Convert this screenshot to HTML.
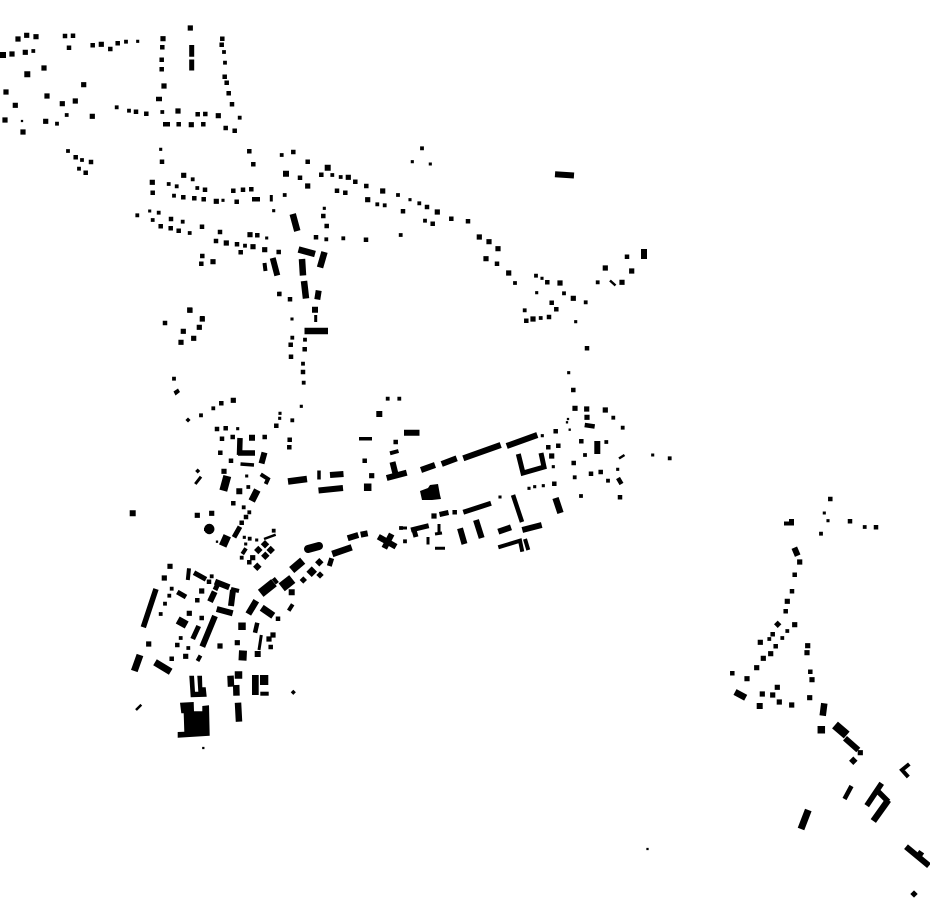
<!DOCTYPE html>
<html><head><meta charset="utf-8"><title>Figure-ground plan</title>
<style>html,body{margin:0;padding:0;background:#fff;width:930px;height:924px;overflow:hidden}svg{display:block}
.s{fill:none;stroke:#000;stroke-linecap:square}.l{fill:none;stroke:#000;stroke-linecap:butt;stroke-linejoin:miter}</style></head>
<body><svg xmlns="http://www.w3.org/2000/svg" width="930" height="924" viewBox="0 0 930 924">
<!-- small square buildings: zero-length square-capped subpaths -->
<path class="s" stroke-width="2.3" d="M22 121h0M217 541.7h0M569.7 429.7h0M568 419h0M567 422.3h0M647.5 849h0M203.3 748h0"/>
<path class="s" stroke-width="3.1" d="M137.7 41.3h0M160.7 149.3h0M266.7 238h0M223 200.3h0M273.7 210.7h0M149.7 211h0M301.3 406.3h0M412.3 161.7h0M430.3 164h0M536.7 292.7h0M542 278.3h0M575.7 321.7h0M568.7 372.7h0M542.3 435.7h0M553.3 466.7h0M617.7 469.3h0M652.7 455h0M543.3 485.7h0M534.7 486.7h0M529 488.3h0M500 497h0M280 413.3h0M279.7 418.3h0M237.7 428.7h0M246.7 476h0M244.3 537.3h0M245.7 544h0M256.7 540h0M824.3 513h0M828 520.7h0M324.3 208.3h0M410 199.7h0M280 293.3h0M292 319h0"/>
<path class="s" stroke-width="3.8" d="M66.7 115h0M126 41.7h0M57 123.7h0M33.3 51h0M225 62.7h0M224 52h0M239.7 117.7h0M116.7 107.3h0M129 110.7h0M162.3 112h0M281.7 155h0M68 151h0M82 160h0M79 168.7h0M192.7 179.3h0M168.7 184h0M176.7 186.3h0M197.3 188h0M174 195.7h0M284.7 195h0M137.3 215.3h0M158.7 212.7h0M182.7 221.7h0M152.7 220h0M189.7 233h0M245 245.7h0M292.3 337.7h0M305 339.7h0M303 363.7h0M303.7 382.7h0M292.3 420.3h0M387.7 398.7h0M399.3 398.7h0M422 148.3h0M332.3 175h0M340.7 177h0M377.3 204.3h0M384.7 205.3h0M398 195h0M419.3 203.3h0M425 220.7h0M400.7 235h0M343.3 238.3h0M326.3 239.3h0M515 283h0M536 275.7h0M564 293.3h0M585.7 302.3h0M524.7 310.3h0M540.7 318h0M597.7 282.3h0M613.3 417.7h0M622.7 427.7h0M606.3 442h0M585 455h0M574.7 477.3h0M608 480.7h0M581 496h0M669.7 458.3h0M401 528h0M405 541.3h0M201 415.3h0M213.3 408.3h0M249.3 512.3h0M248.3 487h0M243.7 507.3h0M249.7 538.7h0M169.3 595.7h0M171.7 588.7h0M165 603.7h0M160.7 614h0M180.7 638h0M188.3 648h0M211.7 576.3h0M787.3 631h0M782.3 638h0M769.3 639h0M821 533.7h0M864.7 527h0M241.7 557.7h0M273.7 530.7h0M174 378.7h0"/>
<path class="s" stroke-width="4.5" d="M65 36h0M73 35.7h0M69 47.7h0M92.7 45.3h0M110.3 49h0M117.7 43.3h0M161.7 59.7h0M161.7 69.3h0M162.3 47.3h0M221.7 44.7h0M222.3 38.7h0M224.7 76.7h0M226.7 82.7h0M228.7 93.3h0M232 104.3h0M205.3 114h0M197.7 114.3h0M225.7 128h0M234.7 130.7h0M136 111.7h0M146.3 113.7h0M178.7 124.3h0M203.3 124.3h0M162 161.7h0M249.3 151.3h0M253.3 164.3h0M293.3 152h0M75.7 157.3h0M91 162h0M85.7 172.7h0M152.7 192.7h0M205 189.7h0M183.3 197.3h0M194.3 198.3h0M203.7 199.3h0M233.3 190.7h0M243 189.7h0M251.3 189.3h0M236.7 201.7h0M171 219h0M160.7 226.3h0M170.7 228.3h0M178.7 230.7h0M202 226.7h0M220 232h0M216 241h0M237 244.3h0M240.7 252.3h0M257.3 235.3h0M278.7 252h0M202.3 256h0M201.3 263.7h0M279.3 294h0M290 299.3h0M202.3 318.3h0M290.7 344.7h0M291 356.7h0M304.7 349.3h0M303 372h0M307.7 161.7h0M300 177.7h0M321.3 174.7h0M337 190.7h0M345.3 192.7h0M355.3 181.7h0M366.3 186h0M427 207h0M451.3 218.7h0M468 221.3h0M403 211.3h0M432.7 223.7h0M366 239.7h0M316 237.3h0M323.3 216h0M326.7 226h0M497 263.7h0M547.3 282.3h0M556.3 309.3h0M551.7 302.7h0M526.3 320.7h0M549 317h0M627 256.7h0M587 348.3h0M573.3 390h0M555.7 431.3h0M558.3 445.7h0M548.3 447.3h0M581.3 441.3h0M573.7 463h0M591 473.7h0M600.7 472h0M620 497.3h0M554.3 483.7h0M454.7 512.3h0M395.7 442h0M364.7 460.7h0M217 429h0M225.7 428.3h0M222 438.7h0M232.7 437h0M264.7 437h0M289.7 439.7h0M289.3 447.3h0M220.3 452.7h0M231 460.7h0M233.3 503.3h0M246 517h0M241.7 522.7h0M276.3 425.7h0M221.3 403.3h0M197.3 600.3h0M201.7 618h0M177.3 645h0M171.7 658.7h0M278 618.7h0M270.7 647h0M792 591.3h0M785.7 611.3h0M772.7 634.3h0M775.7 646.3h0M732.3 673.3h0M830.3 499h0M850 521.3h0M876 527.3h0M794.7 574.7h0M810.3 671.7h0M249.3 562.3h0M209 581.7h0M165 323h0"/>
<path class="s" stroke-width="5.2" d="M18 39h0M26.7 35.3h0M36 36.7h0M101.3 44.3h0M12 54h0M25.3 52.3h0M47 96h0M15.3 105.3h0M5 120h0M45.7 121.3h0M92.3 116.3h0M6 92h0M62.3 103.7h0M75.3 101h0M23 132h0M163 38.7h0M164 86h0M190.3 28h0M218.3 115.7h0M191.3 124.7h0M178 111h0M152.3 182.3h0M183.7 175.3h0M216.3 201.3h0M226.3 243h0M253 246.7h0M250 234.7h0M264.7 249.7h0M213 261.7h0M189.7 310h0M307.7 186h0M382.7 191h0M367.7 199.7h0M437.3 212h0M348.3 177.3h0M479.3 237h0M489 241.7h0M498 248.7h0M486 258.7h0M508.7 273h0M560 283h0M573.3 298.3h0M533 319h0M605.3 268h0M622 282.3h0M631.7 271h0M575 408.3h0M586.7 409h0M587 417.3h0M605.3 410h0M233.3 400.3h0M269 639h0M170 566.3h0M164.3 578h0M201.7 591h0M189.3 613.3h0M148.7 644h0M220 646h0M273 635h0M794.7 624.7h0M787.3 601.3h0M760.3 642.3h0M770.7 653.7h0M763.3 658.3h0M756.7 667.7h0M747 678.7h0M762.3 694h0M772.7 695h0M777.3 687.3h0M779.3 702h0M791.7 705h0M807.7 645.7h0M807 652.7h0M812 679.7h0M809.7 697.7h0M799.7 562h0M252.7 557.7h0M860.3 752.7h0M197.3 515.3h0M185.7 656.3h0M237.3 642.7h0M202.3 319h0M199.3 327.3h0M193.7 338.3h0M183.3 331.3h0M181 342.3h0M190 310.3h0M371.7 475.7h0M434 516h0M44 68h0M83.7 84.7h0M2.7 55h0M27.3 74.3h0M551.7 456h0M211.7 513.3h0M224 471.3h0"/>
<path class="s" stroke-width="6" d="M132.7 513.3h0M379.3 414h0M291.7 592.3h0M252 437.7h0M257.7 654h0M644 252h0M644 256h0M239.3 491.3h0M327.7 167.7h0M286 173.7h0M315 309.7h0M759.7 706h0M3 55h0M27.3 74.3h0"/>
<path class="s" stroke-width="7.5" d="M367.7 487.3h0M242 626.3h0M821.3 729.7h0M238.5 675h0"/>
<!-- diamonds -->
<path class="s" stroke-width="3.6" d="M188 420l.01.01M197.7 471l.01.01M293.3 692.3l.01.01M6 92l.01.01"/>
<path class="s" stroke-width="5.2" d="M914 894l.01.01M777.7 624.3l.01.01M319.3 562.3l.01.01M303.3 580l.01.01M320 575l.01.01"/>
<path class="s" stroke-width="6" d="M258.3 550l.01.01M270.7 550l.01.01M265.3 555.7l.01.01M853.3 760.7l.01.01M257.3 566.7l.01.01M265 544.3l.01.01M319.3 562.3l.01.01"/>
<path class="s" stroke-width="7.5" d="M311.7 571.7l.01.01"/>
<!-- elongated buildings -->
<path class="l" stroke-width="2.5" d="M136 710L141.3 704.7M264 539L275.7 534.7M619 458.5L624.5 455M610 280.5L615.5 285.5"/>
<path class="l" stroke-width="3" d="M271.3 195v6.5M264.7 263L265.5 270.5M261.3 635L259 650M315.7 315L315.7 322M428 537v7.5M435 548.3h10M439 524v9M435 534L442 533M401 528h6M195.3 484L201 476.7"/>
<path class="l" stroke-width="3.5" d="M240.5 464L254 465M319 470.5V479.5M359 438.7H372"/>
<path class="l" stroke-width="4" d="M498.3 547.3L520 540.7L522.3 551.7M525 539L528.3 550M246 548.3L242.3 554M260.7 474.3L268 479L265.7 484M231 589L239 591M909.3 764L902 770L908.3 777M390 453.3L398.5 451M292.7 604.3L288.7 610.7M200.5 655.5L197.5 661M187.8 580L189 568.3M264.5 263L265.5 271"/>
<path class="l" stroke-width="4.5" d="M513 495L522 522M851.5 786L844.5 799M257.3 622.7L255 632.7M156 99h6M163 124.3h7M252 199.3h8M584.7 425L594.7 426.5M618 478L621.5 484"/>
<path class="l" stroke-width="5" d="M518.3 454L523 473L544 467L541 453M463.3 512.3L491 503.3M198.7 626L192.7 639M240 526.7L234 537.3M194 572.7L206 579.3M177.3 592L186 597M218.3 583L215 590M411 530L428.7 525.7M414 530L416 537M439.5 514.5L448.5 512.5M331.7 558.3L329.3 566M191.7 45V56.7M191.7 59.5V70.5"/>
<path class="l" stroke-width="5.5" d="M240 438L239.5 455M238 453H255M881.7 783.3L866.7 805.7M878.3 791.7L888.3 801.7M156 589L143.3 627.3"/>
<path class="l" stroke-width="6" d="M421 470L435 465M441.7 464L456.7 458.3M463.3 458.3L500.7 445M506.7 446L537.3 435M386.7 478L406.7 472.7M392.5 462L395.5 474M404 432.7H419.5M460 528.3L464.5 544M476 520L481.7 538M498.3 531.7L511 527.3M522.3 530L541.7 525M264.5 452.5L261.5 463.5M215 581.7L229.3 587.3M214.7 591.7L210 601.7M216.7 609L232.7 613.3M233 590L231 606M215 616L202.3 646.7M347.7 538.3L358.3 535M360.7 534.7L367.7 533.3M378.3 536.7L396 546.7M391.7 534L384.3 548.3M906 846.7L929 865.7M921.7 851.7L918 857M794.3 547.7L797.7 555.7M845 738.3L858.3 750M555 174.2L574 175.5M318.7 290.5L317.3 299.5M330 475L343.5 474M318.5 490.5L343 488M272.7 258L277.3 275.5"/>
<path class="l" stroke-width="6.5" d="M292.7 214L297.3 231M298.5 249.5L315 254M324.5 252L320 267.5M302 259L303 275.5M304 281L306 298.5M555.5 498L560.5 513M735 692L745.7 697.7M824.3 703.3L822.7 715.7M873.3 821L888.3 800M256.3 600.7L248.3 614M238 702.7L239 721.7M230.5 675.7L231 686.7M236.2 685L236.5 695.7M288 481.5L307 479M304.5 331H328M332.3 554L351.7 547.3"/>
<path class="l" stroke-width="7" d="M140 655L134.3 671M155 662.3L170.7 671.7M808.3 810L801 829M261.7 607.7L273.3 615.7M257.3 490L251.7 501"/>
<path class="l" stroke-width="8" d="M227.3 476L223.3 490.7M227.3 535.7L222.7 546M291.7 570L302.7 560.7M177.7 620L186.7 625M243 650.5L242.5 660.5"/>
<path fill="none" stroke="#000" stroke-width="8" stroke-linecap="round" d="M308 549L319 546"/>
<path class="l" stroke-width="9" d="M260.7 593.3L274 582.7M835 725L846.7 735"/>
<path class="l" stroke-width="4" d="M273.3 578.3L277.3 583.3"/>
<path class="l" stroke-width="6" d="M597.3 441L597.3 454"/>
<path class="l" stroke-width="10" d="M281.7 587.3L292.3 579"/>
<!-- polygons -->
<g fill="#000">
<polygon points="420,491 428,488 430,485 438,484 440,495 441,499 432,500 422,500"/>
<polygon points="189.3,675.7 194,675.7 195,691.7 198.3,691.7 197.3,675.7 202,675.7 202.3,687.3 205.7,687.3 206.7,696.7 190.7,697.3"/>
<polygon points="180,702.7 193.7,702 194,711.3 202.3,711.3 202.3,706 209,705.3 209.7,735.7 177.7,737.7 177.7,732 184.3,731.7 183.7,713.3 181.3,713.3"/>
<rect x="260" y="675" width="8.3" height="10"/>
<rect x="260.3" y="691.7" width="8.4" height="4"/>
<rect x="252" y="675" width="6.7" height="20"/>
<circle cx="209.3" cy="529" r="5.2"/>
<rect x="204" y="528" width="4" height="3"/>
<polygon points="173.5,391.5 178,388.5 180,392 175.5,395.5"/>
<rect x="784" y="521.5" width="10" height="4"/>
<rect x="789" y="519" width="5" height="6"/>
</g>
</svg></body></html>
